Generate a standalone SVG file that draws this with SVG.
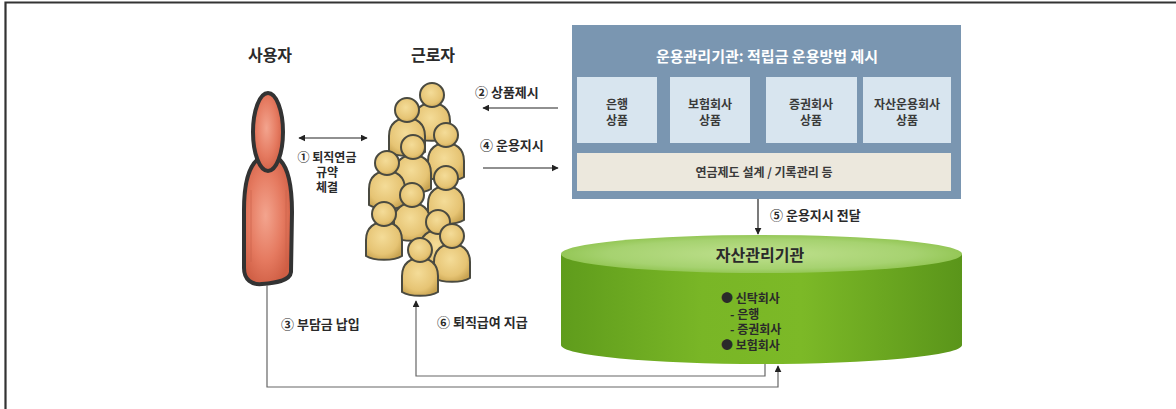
<svg xmlns="http://www.w3.org/2000/svg" xmlns:xlink="http://www.w3.org/1999/xlink" width="1176" height="409" viewBox="0 0 1176 409">
  <style>
    .t { font-family: "Noto Sans CJK KR", "Noto Sans", sans-serif; font-weight: 700; fill: #2a2a2a; }
    .head { font-size: 16px; }
    .lbl { font-size: 13px; }
    .sm { font-size: 12px; }
    .box-t { font-size: 12px; fill: #3a3a3a; text-anchor: middle; }
    .conn { stroke: #222; stroke-width: 1.2; fill: none; }
    .conn-g { stroke: #666; stroke-width: 1.2; fill: none; }
    .person { fill: url(#gold); stroke: #4a4a40; stroke-width: 2; }
  </style>
  <defs>
    <marker id="ah" viewBox="0 0 10 10" refX="9" refY="5" markerWidth="7" markerHeight="7" markerUnits="userSpaceOnUse" orient="auto-start-reverse">
      <path d="M0,0 L10,5 L0,10 Z" fill="#222"/>
    </marker>
    <radialGradient id="salmon" cx="0.45" cy="0.45" r="0.6">
      <stop offset="0" stop-color="#f3a48e"/>
      <stop offset="0.6" stop-color="#e57a60"/>
      <stop offset="1" stop-color="#cf5e44"/>
    </radialGradient>
    <radialGradient id="gold" cx="0.45" cy="0.4" r="0.65">
      <stop offset="0" stop-color="#f4dc98"/>
      <stop offset="0.7" stop-color="#e6c474"/>
      <stop offset="1" stop-color="#c9a452"/>
    </radialGradient>
    <linearGradient id="cylSide" x1="0" y1="0" x2="1" y2="0">
      <stop offset="0" stop-color="#5f9c1c"/>
      <stop offset="0.35" stop-color="#79b626"/>
      <stop offset="0.6" stop-color="#7cb927"/>
      <stop offset="1" stop-color="#5a951a"/>
    </linearGradient>
    <radialGradient id="cylTop" cx="0.5" cy="0.5" r="0.55">
      <stop offset="0" stop-color="#bfe08e"/>
      <stop offset="0.7" stop-color="#a6d270"/>
      <stop offset="1" stop-color="#8dc24c"/>
    </radialGradient>
    <!-- one worker silhouette, head centre at the origin -->
    <g id="worker">
      <path class="person" d="M-18,42 L-18,26 C-18,13 -9,8 0,8 C9,8 18,13 18,26 L18,42 C10,47 -10,47 -18,42 Z"/>
      <circle class="person" cx="0" cy="0" r="12"/>
    </g>
  </defs>

  <rect width="1176" height="409" fill="#ffffff"/>
  <!-- frame -->
  <path d="M5.5,409 L5.5,2.5 L1176,2.5" fill="none" stroke="#333" stroke-width="2.2"/>

  <!-- employer -->
  <g id="employer">
    <text class="t head" x="270" y="61" text-anchor="middle">사용자</text>
    <path d="M257,160 C248,168 244,185 244,210 L244,268 C244,280 252,285 262,284 C275,283 290,281 291,272 L292,212 C292,185 288,168 280,160 Z" fill="url(#salmon)" stroke="#333" stroke-width="4"/>
    <path d="M251,190 L251,262 M286,190 L286,262" stroke="#c9624a" stroke-width="1" fill="none" opacity="0.6"/>
    <ellipse cx="268" cy="132" rx="15" ry="39" fill="url(#salmon)" stroke="#333" stroke-width="4"/>
  </g>

  <!-- employees -->
  <g id="employees">
    <text class="t head" x="433" y="61" text-anchor="middle">근로자</text>
    <use xlink:href="#worker" x="432" y="95"/>
    <use xlink:href="#worker" x="407" y="110"/>
    <use xlink:href="#worker" x="446" y="135"/>
    <use xlink:href="#worker" x="413" y="147"/>
    <use xlink:href="#worker" x="387" y="163"/>
    <use xlink:href="#worker" x="446" y="178"/>
    <use xlink:href="#worker" x="412" y="195"/>
    <use xlink:href="#worker" x="384" y="214"/>
    <use xlink:href="#worker" x="438" y="222"/>
    <use xlink:href="#worker" x="452" y="236"/>
    <use xlink:href="#worker" x="420" y="250"/>
  </g>

  <!-- operation management institution -->
  <g id="operator">
    <rect x="572" y="25" width="389" height="174" fill="#7a96b1"/>
    <text class="t" x="767" y="62" text-anchor="middle" font-size="15" style="fill:#ffffff">운용관리기관: 적립금 운용방법 제시</text>
    <rect x="577" y="77" width="80" height="66" fill="#d8e5ef"/>
    <rect x="670" y="77" width="80" height="66" fill="#d8e5ef"/>
    <rect x="766" y="77" width="91" height="66" fill="#d8e5ef"/>
    <rect x="863" y="77" width="88" height="66" fill="#d8e5ef"/>
    <text class="t box-t" x="617" y="109">은행</text>
    <text class="t box-t" x="617" y="125">상품</text>
    <text class="t box-t" x="710" y="109">보험회사</text>
    <text class="t box-t" x="710" y="125">상품</text>
    <text class="t box-t" x="811" y="109">증권회사</text>
    <text class="t box-t" x="811" y="125">상품</text>
    <text class="t box-t" x="907" y="109">자산운용회사</text>
    <text class="t box-t" x="907" y="125">상품</text>
    <rect x="577" y="153" width="374" height="38" fill="#ece8dd"/>
    <text class="t box-t" x="764" y="177" font-size="13">연금제도 설계 / 기록관리 등</text>
  </g>

  <!-- asset management institution -->
  <g id="custodian">
    <path d="M561,254 L561,345 A200.5,19 0 0 0 962,345 L962,254 Z" fill="url(#cylSide)"/>
    <ellipse cx="761.5" cy="254" rx="200.5" ry="19" fill="url(#cylTop)"/>
    <text class="t" x="760" y="261" text-anchor="middle" font-size="16">자산관리기관</text>
    <text class="t sm" x="721" y="303">● 신탁회사</text>
    <text class="t sm" x="730" y="319">- 은행</text>
    <text class="t sm" x="730" y="334">- 증권회사</text>
    <text class="t sm" x="721" y="350">● 보험회사</text>
  </g>

  <!-- connectors -->
  <g id="connectors">
    <line class="conn" x1="299" y1="138" x2="367" y2="138" marker-start="url(#ah)" marker-end="url(#ah)"/>
    <line class="conn" x1="558" y1="108" x2="483" y2="108" marker-end="url(#ah)"/>
    <line class="conn" x1="483" y1="168" x2="558" y2="168" marker-end="url(#ah)"/>
    <line class="conn" x1="758" y1="199" x2="758" y2="234" marker-end="url(#ah)"/>
    <polyline class="conn-g" points="765,364 765,376 416,376 416,301" marker-end="url(#ah)"/>
    <polyline class="conn-g" points="267,285 267,387 778,387 778,366" marker-end="url(#ah)"/>
  </g>

  <!-- connector labels -->
  <g id="labels">
    <text class="t sm" x="327" y="162" text-anchor="middle">① 퇴직연금</text>
    <text class="t sm" x="327" y="177" text-anchor="middle">규약</text>
    <text class="t sm" x="327" y="192" text-anchor="middle">체결</text>
    <text class="t lbl" x="475" y="97">② 상품제시</text>
    <text class="t lbl" x="480" y="150">④ 운용지시</text>
    <text class="t lbl" x="770" y="220">⑤ 운용지시 전달</text>
    <text class="t lbl" x="281" y="329">③ 부담금 납입</text>
    <text class="t lbl" x="437" y="327">⑥ 퇴직급여 지급</text>
  </g>
</svg>
